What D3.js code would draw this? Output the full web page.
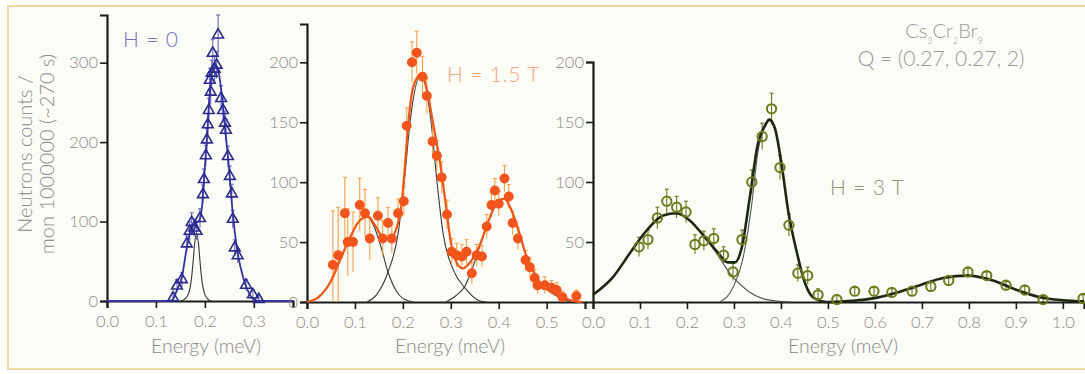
<!DOCTYPE html>
<html>
<head>
<meta charset="utf-8">
<script src="https://cdn.jsdelivr.net/npm/d3@7"></script>
<style>
  body { margin: 0; background: #fff; }
  text { font-family: Lato, "Open Sans", sans-serif; font-weight: 300; }
</style>
</head>
<body>
<script>

// ---- data: [energy (meV), counts, error] ----
const zeroFieldPts = [
  [0.135,4,6],[0.143,19,8],[0.153,27,9],[0.163,72,10],[0.169,88,12],[0.173,99,12],[0.178,92,11],
  [0.183,88,11],[0.190,104,12],[0.196,134,12],[0.198,153,13],[0.202,183,13],[0.204,203,14],
  [0.206,222,14],[0.208,240,15],[0.210,278,15],[0.212,263,16],[0.214,287,16],[0.216,312,17],
  [0.220,292,17],[0.224,297,17],[0.227,335,25],[0.233,255,16],[0.237,240,15],[0.241,224,15],
  [0.243,215,14],[0.247,182,13],[0.251,157,13],[0.255,135,12],[0.257,103,11],[0.261,67,10],
  [0.267,57,9],[0.284,20,7],[0.298,8,6],[0.310,2,5]
];
const zeroFieldFit = [
  [0,0],[0.125,0],[0.133,1],[0.143,14],[0.153,30],[0.163,67],[0.171,89],[0.180,98],[0.188,101],
  [0.194,118],[0.198,152],[0.204,203],[0.210,262],[0.216,292],[0.222,296],[0.229,285],[0.234,262],
  [0.241,219],[0.249,169],[0.257,110],[0.265,68],[0.278,30],[0.290,10],[0.302,1],[0.310,0],[0.380,0]
];
const zeroFieldComps = [
  [[0.150,0],[0.160,3],[0.167,10],[0.172,25],[0.176,50],[0.179,72],[0.183,84],[0.187,72],
   [0.190,50],[0.194,25],[0.199,10],[0.205,3],[0.212,0]]
];

const midFieldPts = [
  [0.054,31,45],[0.065,39,40],[0.079,74,30],[0.085,50,28],[0.096,50,25],[0.110,81,22],[0.121,74,20],
  [0.131,53,18],[0.148,72,15],[0.158,53,15],[0.169,66,13],[0.177,53,12],[0.190,74,12],[0.202,84,12],
  [0.208,147,15],[0.219,200,17],[0.229,208,18],[0.241,188,17],[0.250,172,15],[0.262,134,14],
  [0.271,122,13],[0.281,104,13],[0.292,73,12],[0.302,42,11],[0.312,39,10],[0.323,38,10],
  [0.333,42,10],[0.344,24,9],[0.354,39,9],[0.365,38,9],[0.375,63,10],[0.385,81,10],[0.392,93,10],
  [0.400,82,10],[0.412,103,11],[0.421,88,10],[0.429,66,10],[0.440,53,9],[0.456,35,8],[0.465,29,8],
  [0.475,20,7],[0.481,14,7],[0.496,14,7],[0.510,12,6],[0.521,10,6],[0.533,4,5],[0.562,5,5]
];
const midFieldFit = [
  [0,0],[0.024,4],[0.048,16],[0.069,35],[0.090,54],[0.110,68],[0.127,71],[0.145,62],[0.160,53],
  [0.173,53],[0.187,62],[0.198,84],[0.204,112],[0.212,152],[0.222,180],[0.237,190],[0.250,178],
  [0.263,149],[0.277,118],[0.290,80],[0.300,50],[0.312,33],[0.325,28],[0.340,33],[0.360,47],
  [0.381,70],[0.400,85],[0.412,86],[0.425,78],[0.438,64],[0.458,38],[0.485,17],[0.521,6],
  [0.554,1],[0.575,0]
];
const midFieldComps = [
  [[0,0],[0.024,4],[0.048,16],[0.069,35],[0.090,54],[0.110,68],[0.125,71],[0.140,63],[0.155,45],
   [0.169,25],[0.185,10],[0.200,3],[0.222,0]],
  [[0.125,0],[0.145,6],[0.169,25],[0.190,57],[0.204,105],[0.215,150],[0.237,189],[0.259,150],
   [0.270,105],[0.284,57],[0.305,27],[0.329,12],[0.360,1],[0.375,0]],
  [[0.290,0],[0.310,5],[0.329,13],[0.345,28],[0.360,46],[0.381,70],[0.400,85],[0.412,86],
   [0.425,78],[0.438,64],[0.458,38],[0.485,17],[0.521,5],[0.550,0]]
];

const highFieldPts = [
  [0.098,46,8],[0.117,52,8],[0.137,70,9],[0.157,84,10],[0.178,79,9],[0.198,75,9],[0.217,48,8],
  [0.236,51,8],[0.257,53,8],[0.278,39,7],[0.298,25,7],[0.317,52,8],[0.338,100,10],[0.360,138,11],
  [0.380,161,13],[0.398,112,10],[0.417,64,9],[0.436,24,7],[0.457,22,7],[0.479,6,5],[0.519,2,4],
  [0.557,9,3],[0.598,9,3],[0.636,8,3],[0.679,9,3],[0.719,13,3],[0.757,18,3],[0.798,25,3],
  [0.838,22,3],[0.879,14,3],[0.919,10,3],[0.958,2,3],[1.043,3,3]
];
const highFieldFit = [
  [0,6],[0.043,21],[0.079,41],[0.115,60],[0.149,72],[0.178,74],[0.206,68],[0.234,56],[0.264,42],
  [0.287,33],[0.302,33],[0.317,46],[0.334,88],[0.351,132],[0.366,147],[0.375,152],[0.387,145],
  [0.402,113],[0.415,77],[0.434,41],[0.451,16],[0.468,4],[0.498,0],[0.550,1],[0.596,3],[0.647,8],
  [0.696,14],[0.745,20],[0.798,22],[0.851,18],[0.902,10],[0.951,4],[1.000,1.5],[1.045,0.5]
];
const highFieldComps = [
  [[0,6],[0.043,21],[0.079,41],[0.115,60],[0.149,72],[0.178,74],[0.206,68],[0.234,56],[0.264,40],
   [0.291,24],[0.327,10],[0.370,2],[0.420,0]],
  [[0.270,0],[0.298,12],[0.319,36],[0.338,82],[0.351,125],[0.366,146],[0.375,151],[0.387,144],
   [0.402,112],[0.415,77],[0.434,41],[0.451,16],[0.468,4],[0.500,0]]
];

const W = 1085, H = 374;
const labelGrey = "#8a8a8a";

const svg = d3.select("body").append("svg")
  .attr("width", W)
  .attr("height", H);

// paper + frame
svg.append("rect").attr("x", 8).attr("y", 6).attr("width", W).attr("height", 363)
  .attr("fill", "#fcfcf7").attr("stroke", "#f1d9a4").attr("stroke-width", 2);

function drawPanel({
  pts, fit, comps,
  xDomain, xRange, xMajor, xMinor,
  yDomain, yRange, yMajor, yMinor,
  marker, markerColor, markerFill, markerWidth, errColor, fitColor, fitWidth, compColor,
  titleX
}) {
  const x = d3.scaleLinear(xDomain, xRange);
  const y = d3.scaleLinear(yDomain, yRange);
  const g = svg.append("g");

  const line = d3.line()
    .x(d => x(d[0]))
    .y(d => y(d[1]))
    .curve(d3.curveMonotoneX);

  // axes
  const xAxis = g.append("g").attr("transform", `translate(0,${yRange[0]})`);
  xAxis.call(d3.axisBottom(x).tickValues(xMinor).tickSize(4).tickFormat(""));
  xAxis.call(d3.axisBottom(x).tickValues(xMajor).tickSize(7).tickPadding(7).tickFormat(d3.format(".1f")));

  const yAxis = g.append("g").attr("transform", `translate(${xRange[0]},0)`);
  yAxis.call(d3.axisLeft(y).tickValues(yMinor).tickSize(4).tickFormat(""));
  yAxis.call(d3.axisLeft(y).tickValues(yMajor).tickSize(7).tickPadding(2));

  g.selectAll(".domain").attr("stroke", "#1a1a1a").attr("stroke-width", 2.2);
  g.selectAll(".tick line").attr("stroke", "#1a1a1a").attr("stroke-width", 1.6);
  g.selectAll(".tick text")
    .attr("fill", labelGrey)
    .attr("font-size", 16.5)
    .attr("font-family", "Lato, sans-serif")
    .attr("font-weight", 300);

  g.append("text")
    .attr("x", titleX).attr("y", 353)
    .attr("text-anchor", "middle")
    .attr("fill", labelGrey)
    .attr("font-size", 19.5)
    .text("Energy (meV)");

  // component curves
  g.append("g").selectAll("path")
    .data(comps)
    .join("path")
    .attr("d", line)
    .attr("fill", "none")
    .attr("stroke", compColor)
    .attr("stroke-width", 1.1);

  // error bars
  const eb = g.append("g").attr("stroke", errColor).attr("stroke-width", 1.1);
  eb.selectAll("line.v").data(pts).join("line").attr("class", "v")
    .attr("x1", d => x(d[0])).attr("x2", d => x(d[0]))
    .attr("y1", d => y(Math.max(0, d[1] - d[2]))).attr("y2", d => y(d[1] + d[2]));
  eb.selectAll("line.t").data(pts).join("line").attr("class", "t")
    .attr("x1", d => x(d[0]) - 2).attr("x2", d => x(d[0]) + 2)
    .attr("y1", d => y(d[1] + d[2])).attr("y2", d => y(d[1] + d[2]));

  // fit
  g.append("path")
    .attr("d", line(fit))
    .attr("fill", "none")
    .attr("stroke", fitColor)
    .attr("stroke-width", fitWidth);

  // markers
  g.append("g").selectAll("path")
    .data(pts)
    .join("path")
    .attr("transform", d => `translate(${x(d[0])},${y(d[1])})`)
    .attr("d", marker)
    .attr("fill", markerFill)
    .attr("stroke", markerColor)
    .attr("stroke-width", markerWidth);

  return g;
}

const step = (a, b, s) => d3.range(Math.round((b - a) / s) + 1).map(i => +(a + i * s).toFixed(3));

// H = 0
drawPanel({
  pts: zeroFieldPts, fit: zeroFieldFit, comps: zeroFieldComps,
  xDomain: [0, 0.38], xRange: [107, 293], xMajor: [0, 0.1, 0.2, 0.3], xMinor: step(0, 0.36, 0.02),
  yDomain: [0, 360], yRange: [301, 15], yMajor: [0, 100, 200, 300], yMinor: step(0, 340, 20),
  marker: d3.symbol(d3.symbolTriangle, 50)(), markerColor: "#2b2b8e", markerFill: "none", markerWidth: 1.6,
  errColor: "#6a6ac0", fitColor: "#3434a4", fitWidth: 1.8, compColor: "#333",
  titleX: 206
});

// H = 1.5 T
drawPanel({
  pts: midFieldPts, fit: midFieldFit, comps: midFieldComps,
  xDomain: [0, 0.58], xRange: [307, 585], xMajor: [0, 0.1, 0.2, 0.3, 0.4, 0.5], xMinor: step(0, 0.55, 0.05),
  yDomain: [0, 232], yRange: [302, 24], yMajor: [0, 50, 100, 150, 200], yMinor: step(0, 230, 10),
  marker: d3.symbol(d3.symbolCircle, 60)(), markerColor: "#f2551c", markerFill: "#f2551c", markerWidth: 1.2,
  errColor: "#f5a24a", fitColor: "#ee5616", fitWidth: 2.2, compColor: "#3a3a3a",
  titleX: 450
});

// H = 3 T
drawPanel({
  pts: highFieldPts, fit: highFieldFit, comps: highFieldComps,
  xDomain: [0, 1.045], xRange: [593, 1084], xMajor: [0, 0.1, 0.2, 0.3, 0.4, 0.5, 0.6, 0.7, 0.8, 0.9, 1.0],
  xMinor: step(0, 1.0, 0.05),
  yDomain: [0, 200], yRange: [302, 62], yMajor: [50, 100, 150, 200], yMinor: step(0, 200, 10),
  marker: d3.symbol(d3.symbolCircle, 68)(), markerColor: "#6c7a1c", markerFill: "none", markerWidth: 2,
  errColor: "#6c7a1c", fitColor: "#1d2812", fitWidth: 2.6, compColor: "#555",
  titleX: 843
});

// y-axis title
const yt = svg.append("text")
  .attr("transform", "translate(0,154) rotate(-90)")
  .attr("text-anchor", "middle")
  .attr("fill", labelGrey)
  .attr("font-size", 20);
yt.append("tspan").attr("x", 0).attr("y", 32).text("Neutrons counts /");
yt.append("tspan").attr("x", 0).attr("y", 54).text("mon 1000000 (~270 s)");

// field labels
svg.append("text").attr("x", 123).attr("y", 47).attr("font-size", 21).attr("letter-spacing", 0.8)
  .attr("fill", "#7272c4").text("H = 0");
svg.append("text").attr("x", 447).attr("y", 82).attr("font-size", 21).attr("letter-spacing", 0.8)
  .attr("fill", "#f6a47e").text("H = 1.5 T");
svg.append("text").attr("x", 830).attr("y", 195).attr("font-size", 21).attr("letter-spacing", 0.8)
  .attr("fill", "#8f947a").text("H = 3 T");

// compound and Q
const cs = svg.append("text").attr("x", 944).attr("y", 38).attr("text-anchor", "middle")
  .attr("font-size", 20).attr("fill", "#999");
[["Cs", "3"], ["Cr", "2"], ["Br", "9"]].forEach(([el, n]) => {
  cs.append("tspan").attr("font-size", 20).attr("dy", 0).text(el);
  cs.append("tspan").attr("font-size", 9).attr("baseline-shift", "sub").text(n);
});
svg.append("text").attr("x", 941).attr("y", 66).attr("text-anchor", "middle")
  .attr("font-size", 21).attr("fill", "#999").text("Q = (0.27, 0.27, 2)");

</script>
</body>
</html>
